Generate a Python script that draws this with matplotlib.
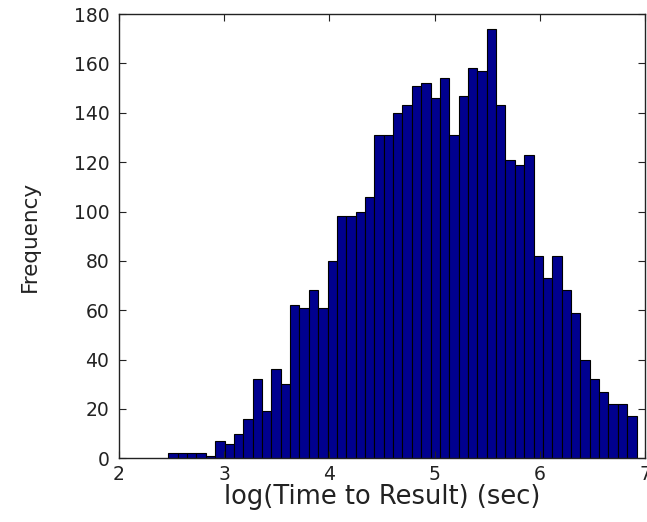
import numpy as np
import matplotlib
matplotlib.use("Agg")
import matplotlib.pyplot as plt

# histogram counts (50 equal bins)
counts = [2, 2, 2, 2, 1, 7, 6, 10, 16, 32,
          19, 36, 30, 62, 61, 68, 61, 80, 98, 98,
          100, 106, 131, 131, 140, 143, 151, 152, 146, 154,
          131, 147, 158, 157, 174, 143, 121, 119, 123, 82,
          73, 82, 68, 59, 40, 32, 27, 22, 22, 17]
bin_start = 2.469   # left edge of first bin
bin_end = 6.919     # right edge of last bin

x_ticks = [2, 3, 4, 5, 6, 7]
y_ticks = [0, 20, 40, 60, 80, 100, 120, 140, 160, 180]

plt.rcParams["font.family"] = ["DejaVu Sans"]

edges = np.linspace(bin_start, bin_end, len(counts) + 1)
widths = np.diff(edges)

fig = plt.figure(figsize=(6.47, 5.22), dpi=100)
ax = fig.add_axes([0.184, 0.122, 0.813, 0.851])

ax.bar(edges[:-1], counts, width=widths, align="edge",
       color="#00008F", edgecolor="black", linewidth=0.8)

ax.set_xlim(2, 7)
ax.set_ylim(0, 180)
ax.set_xticks(x_ticks)
ax.set_yticks(y_ticks)
ax.tick_params(direction="in", top=True, right=True, length=5,
               width=0.8, labelsize=13.5, colors="#222222")
ax.tick_params(axis="y", pad=7)
ax.tick_params(axis="x", pad=5)
for s in ax.spines.values():
    s.set_linewidth(1.0)
    s.set_color("#222222")

ax.set_xlabel("log(Time to Result) (sec)", fontsize=18.5, labelpad=0,
              color="#222222")
ax.set_ylabel("Frequency", fontsize=15.5, labelpad=24, color="#222222")

fig.savefig("out.png", dpi=100)
